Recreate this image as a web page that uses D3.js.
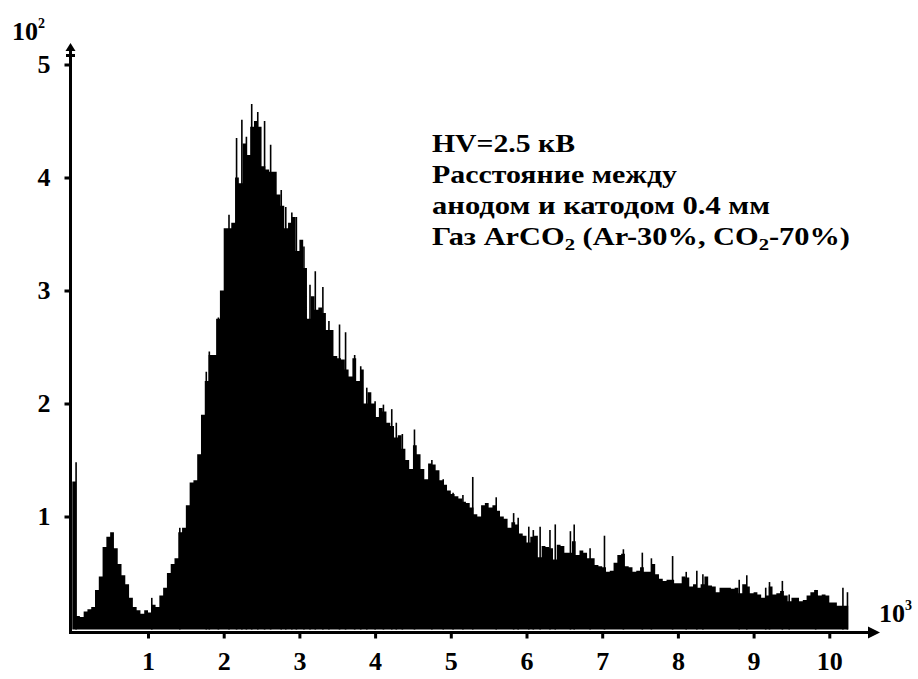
<!DOCTYPE html>
<html>
<head>
<meta charset="utf-8">
<script src="https://cdn.jsdelivr.net/npm/d3@7"></script>
<style>
  body { margin: 0; background: #fff; }
  svg { display: block; }
  text { font-family: "Liberation Serif", "Times New Roman", serif; font-weight: bold; fill: #000; }
</style>
</head>
<body>
<div id="chart"></div>
<script>
'use strict';

// channel axis in units of 10^3, counts in units of 10^2
const binWidth = 0.05;
const counts = [
  1.31, 0.12, 0.11, 0.16, 0.18, 0.20, 0.35, 0.47, 0.73, 0.82,
  0.86, 0.72, 0.58, 0.48, 0.40, 0.28, 0.20, 0.17, 0.14, 0.17,
  0.15, 0.22, 0.20, 0.30, 0.37, 0.50, 0.58, 0.63, 0.86, 0.90,
  1.10, 1.30, 1.32, 1.55, 1.90, 2.20, 2.43, 2.43, 2.75, 3.00,
  3.55, 3.55, 3.60, 4.00, 3.95, 4.30, 4.20, 4.45, 4.50, 4.45,
  4.10, 4.07, 4.05, 4.05, 3.85, 3.75, 3.55, 3.60, 3.65, 3.35,
  3.45, 3.20, 2.75, 2.95, 2.83, 2.85, 2.80, 2.65, 2.65, 2.42,
  2.40, 2.39, 2.30, 2.24, 2.40, 2.20, 2.30, 2.00, 2.10, 2.00,
  1.88, 1.96, 1.93, 1.83, 1.80, 1.70, 1.72, 1.60, 1.50, 1.42,
  1.63, 1.55, 1.42, 1.33, 1.47, 1.46, 1.41, 1.32, 1.28, 1.23,
  1.20, 1.18, 1.16, 1.13, 1.12, 1.08, 1.02, 1.00, 1.10, 1.12,
  1.08, 1.10, 1.05, 1.00, 0.98, 0.90, 0.95, 0.93, 0.85, 0.83,
  0.77, 0.82, 0.83, 0.64, 0.74, 0.73, 0.72, 0.62, 0.75, 0.74,
  0.68, 0.68, 0.78, 0.66, 0.70, 0.68, 0.63, 0.63, 0.57, 0.56,
  0.55, 0.51, 0.52, 0.59, 0.66, 0.67, 0.56, 0.55, 0.51, 0.52,
  0.55, 0.51, 0.51, 0.58, 0.49, 0.45, 0.43, 0.44, 0.44, 0.41,
  0.41, 0.47, 0.46, 0.38, 0.40, 0.37, 0.40, 0.47, 0.39, 0.38,
  0.33, 0.37, 0.37, 0.37, 0.36, 0.37, 0.32, 0.40, 0.38, 0.32,
  0.33, 0.31, 0.28, 0.30, 0.38, 0.31, 0.32, 0.34, 0.30, 0.25,
  0.28, 0.28, 0.25, 0.26, 0.30, 0.33, 0.35, 0.30, 0.31, 0.30,
  0.24, 0.24, 0.21, 0.21, 0.21
];

// single-channel spikes standing above the bins: [channel, count]
const spikes = [
  [0.05, 1.48], [1.05, 0.28], [1.42, 0.90], [1.77, 2.28], [1.81, 2.46],
  [1.93, 2.76], [2.07, 3.67], [2.17, 4.35], [2.24, 4.51], [2.30, 4.36],
  [2.37, 4.65], [2.45, 4.58], [2.54, 4.50], [2.62, 4.29], [2.76, 3.89],
  [2.82, 3.74], [2.90, 3.69], [2.96, 3.65], [3.06, 3.39], [3.14, 3.05],
  [3.21, 3.17], [3.31, 3.03], [3.39, 2.73], [3.53, 2.70], [3.61, 2.63],
  [3.73, 2.43], [3.81, 2.33], [3.89, 2.14], [4.00, 2.02], [4.11, 1.99],
  [4.22, 1.95], [4.28, 1.83], [4.36, 1.73], [4.52, 1.77], [4.75, 1.50],
  [4.90, 1.33], [5.03, 1.21], [5.16, 1.19], [5.29, 1.35], [5.60, 1.17],
  [5.83, 1.03], [5.89, 0.99], [6.03, 0.91], [6.09, 0.88], [6.18, 0.91],
  [6.31, 0.88], [6.38, 0.93], [6.58, 0.87], [6.63, 0.93], [6.84, 0.72],
  [7.03, 0.83], [7.28, 0.71], [7.53, 0.68], [7.65, 0.63], [7.93, 0.65],
  [8.11, 0.51], [8.25, 0.52], [8.33, 0.49], [8.81, 0.44], [8.91, 0.48],
  [9.16, 0.37], [9.21, 0.42], [9.38, 0.43], [9.47, 0.31], [9.82, 0.35],
  [10.18, 0.37], [10.24, 0.33]
];

const xTicks = [1, 2, 3, 4, 5, 6, 7, 8, 9, 10];
const yTicks = [1, 2, 3, 4, 5];

const notes = [
  ['HV=2.5 кВ'],
  ['Расстояние между'],
  ['анодом и катодом 0.4 мм'],
  ['Газ ArCO', '2', ' (Ar-30%, CO', '2', '-70%)']
];

// size
const W = 918, H = 679;

const svg = d3.select('#chart').append('svg')
  .attr('width', W)
  .attr('height', H);

const x = d3.scaleLinear().domain([0, 10]).range([72.3, 829.3]);
const y = d3.scaleLinear().domain([0, 5]).range([629.5, 64.5]);

// histogram as one stepped area (no seams between bins)
const steps = counts.map((c, i) => ({ v: i * binWidth, c: c }));
steps.push({ v: counts.length * binWidth, c: counts[counts.length - 1] });

const area = d3.area()
  .x(d => x(d.v))
  .y0(y(0))
  .y1(d => y(d.c))
  .curve(d3.curveStepAfter);

svg.append('path')
  .datum(steps)
  .attr('d', area)
  .attr('fill', '#000');

// spikes
svg.append('g')
  .selectAll('line')
  .data(spikes)
  .join('line')
  .attr('x1', d => x(d[0]))
  .attr('x2', d => x(d[0]))
  .attr('y1', y(0))
  .attr('y2', d => y(d[1]))
  .attr('stroke', '#000')
  .attr('stroke-width', 1.6);

// axes
const axisY0 = 632.5, axisX0 = 70.5;

const gx = svg.append('g')
  .attr('transform', `translate(0,${axisY0})`)
  .call(d3.axisBottom(x).tickValues(xTicks).tickSize(6).tickPadding(13).tickFormat(d3.format('d')));
gx.select('.domain').remove();
gx.selectAll('.tick line').attr('stroke', '#000').attr('stroke-width', 3);
gx.selectAll('.tick text').attr('font-size', 26).attr('font-family', null);

const gy = svg.append('g')
  .attr('transform', `translate(${axisX0},0)`)
  .call(d3.axisLeft(y).tickValues(yTicks).tickSize(6).tickPadding(14).tickFormat(d3.format('d')));
gy.select('.domain').remove();
gy.selectAll('.tick line').attr('stroke', '#000').attr('stroke-width', 3);
gy.selectAll('.tick text').attr('font-size', 26).attr('font-family', null);

// axis lines with arrows
svg.append('line')
  .attr('x1', axisX0).attr('x2', 870)
  .attr('y1', axisY0).attr('y2', axisY0)
  .attr('stroke', '#000').attr('stroke-width', 3);
svg.append('path')
  .attr('d', `M868,${axisY0 - 6}L880,${axisY0}L868,${axisY0 + 6}Z`)
  .attr('fill', '#000');

svg.append('line')
  .attr('x1', axisX0).attr('x2', axisX0)
  .attr('y1', axisY0 + 1.5).attr('y2', 50)
  .attr('stroke', '#000').attr('stroke-width', 3);
svg.append('path')
  .attr('d', `M${axisX0},43L${axisX0 - 5},51L${axisX0 + 5},51Z`)
  .attr('fill', '#000');
svg.append('rect')
  .attr('x', axisX0 - 4.5).attr('y', 54)
  .attr('width', 9).attr('height', 3)
  .attr('fill', '#000');

// unit labels
const unitY = svg.append('text').attr('x', 12).attr('y', 40).attr('font-size', 26);
unitY.append('tspan').text('10');
unitY.append('tspan').attr('dy', -12).attr('font-size', 14).text('2');

const unitX = svg.append('text').attr('x', 879).attr('y', 622).attr('font-size', 26);
unitX.append('tspan').text('10');
unitX.append('tspan').attr('dy', -12).attr('font-size', 14).text('3');

// note block
const noteWidths = [143, 245, 338, 418];
notes.forEach((parts, i) => {
  const t = svg.append('text')
    .attr('x', 432)
    .attr('y', 152 + i * 31)
    .attr('font-size', 25)
    .attr('textLength', noteWidths[i])
    .attr('lengthAdjust', 'spacingAndGlyphs');
  parts.forEach((p, j) => {
    const sub = p === '2';
    t.append('tspan')
      .attr('font-size', sub ? 17 : null)
      .attr('dy', sub ? 5 : (j > 0 && parts[j - 1] === '2' ? -5 : null))
      .text(p);
  });
});
</script>
</body>
</html>
